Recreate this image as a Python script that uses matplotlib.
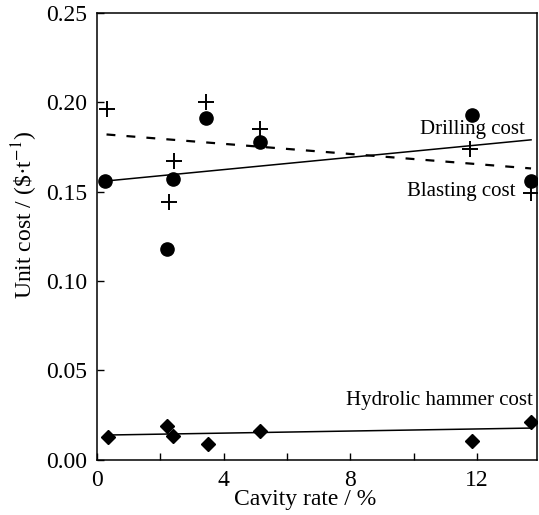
import numpy as np
import matplotlib.pyplot as plt
from matplotlib.ticker import MultipleLocator, FormatStrFormatter

plt.rcParams['font.family'] = ['Liberation Serif', 'DejaVu Serif']
plt.rcParams['mathtext.fontset'] = 'stix'

# Data
cavity = [0.25, 2.22, 2.4, 3.45, 5.13, 11.84, 13.7]
drilling = [0.156, 0.118, 0.157, 0.191, 0.178, 0.193, 0.156]
blasting_x = [0.3, 2.27, 2.42, 3.45, 5.16, 11.78, 13.7]
blasting = [0.196, 0.144, 0.167, 0.200, 0.185, 0.174, 0.149]
hammer_x = [0.35, 2.22, 2.4, 3.5, 5.13, 11.84, 13.7]
hammer = [0.0128, 0.019, 0.0133, 0.0089, 0.016, 0.0106, 0.021]

# trend lines (end points)
trend_x = [0.3, 13.7]
drilling_fit = [0.156, 0.179]
blasting_fit = [0.182, 0.163]
hammer_fit = [0.0139, 0.0178]

fig = plt.figure(figsize=(5.39, 5.15), dpi=100)
ax = fig.add_axes([0.180, 0.107, 0.817, 0.868])

ax.plot(cavity, drilling, 'o', color='black', markersize=9.5)
ax.plot(blasting_x, blasting, '+', color='black', markersize=11, mew=1.4)
ax.plot(hammer_x, hammer, 'D', color='black', markersize=7.5)

ax.plot(trend_x, drilling_fit, '-', color='black', linewidth=1.1)
ax.plot(trend_x, blasting_fit, color='black', linewidth=1.6, linestyle=(0, (4, 5)))
ax.plot(trend_x, hammer_fit, '-', color='black', linewidth=1.1)

ax.text(11.85, 0.185, 'Drilling cost', ha='center', va='center', fontsize=15)
ax.text(11.5, 0.150, 'Blasting cost', ha='center', va='center', fontsize=15)
ax.text(10.8, 0.0333, 'Hydrolic hammer cost', ha='center', va='center', fontsize=15)

ax.set_xlim(0, 13.9)
ax.set_ylim(0, 0.25)
ax.xaxis.set_major_locator(MultipleLocator(4))
ax.xaxis.set_minor_locator(MultipleLocator(2))
ax.yaxis.set_major_locator(MultipleLocator(0.05))
ax.yaxis.set_major_formatter(FormatStrFormatter('%.2f'))
ax.tick_params(which='both', direction='in', length=5, width=1, labelsize=17, pad=7)

ax.set_xlabel('Cavity rate / %', fontsize=17)
ax.set_ylabel(r'Unit cost / (\$·t$^{-1}$)', fontsize=17)
ax.xaxis.set_label_coords(0.472, -0.066)
ax.yaxis.set_label_coords(-0.13, 0.548)

for s in ax.spines.values():
    s.set_linewidth(1.1)

fig.savefig('out.png', dpi=100)
